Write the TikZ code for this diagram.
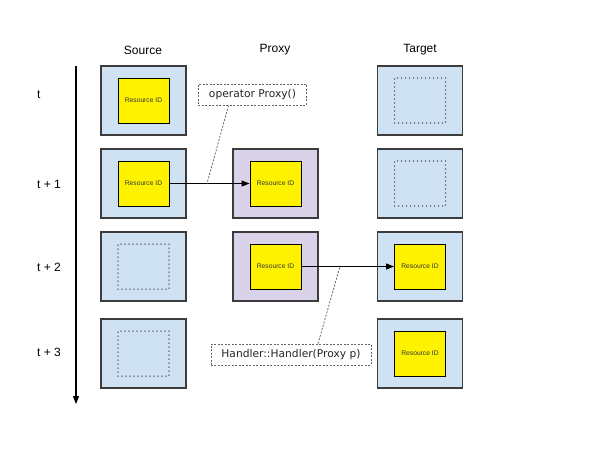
\documentclass[tikz,border=0pt]{standalone}
\usepackage{fontspec}
\setmainfont{Liberation Sans}
\newfontfamily\calloutfont{DejaVu Sans}
\usetikzlibrary{arrows.meta}
\definecolor{boxblue}{HTML}{CFE2F3}
\definecolor{boxpurple}{HTML}{D9D2E9}
\definecolor{boxedge}{HTML}{3C3C3C}
\definecolor{dotgray}{HTML}{404040}
\tikzset{
  outerbox/.style={draw=boxedge, line width=1.3pt, fill=boxblue, minimum width=85pt, minimum height=69pt, inner sep=0pt},
  proxybox/.style={outerbox, fill=boxpurple},
  resbox/.style={draw=black, line width=1pt, fill=yellow, minimum width=51pt, minimum height=45pt, inner sep=0pt, font=\fontsize{6.7}{8}\selectfont, text=black!80},
  emptybox/.style={draw=dotgray, line width=1.5pt, dash pattern=on 0pt off 4pt, line cap=round, minimum width=51pt, minimum height=45pt, inner sep=0pt},
  header/.style={font=\fontsize{12}{14}\selectfont},
  rowlabel/.style={font=\fontsize{12}{14}\selectfont, anchor=west, inner sep=0pt},
  callout/.style={draw=gray!80!black, line width=0.8pt, dash pattern=on 2pt off 1.5pt, fill=white, font=\calloutfont\fontsize{10.7}{12}\selectfont, inner xsep=10.5pt, inner ysep=0pt, minimum height=21pt, text=black!85},
  leader/.style={draw=gray!80!black, line width=0.8pt, dash pattern=on 2pt off 1.5pt},
  flow/.style={draw=black, line width=1.3pt, -{Triangle[length=8pt,width=6pt]}}
}
\begin{document}
\begin{tikzpicture}[x=1pt,y=-1pt]
\useasboundingbox (0,0) rectangle (604,453);
% headers
\node[header] (hs) at (143,50) {Source};
\node[header] (hp) at (275,50) {Proxy};
\node[header] (ht) at (420,50) {Target};
% timeline
\coordinate (tl0) at (76,66);
\coordinate (tl1) at (76,404);
\draw[line width=1.2pt, -{Triangle[length=8pt,width=6pt]}] (tl0) -- (tl1);
\node[rowlabel] (r0) at (37,95) {t};
\node[rowlabel] (r1) at (37,184) {t + 1};
\node[rowlabel] (r2) at (37,267) {t + 2};
\node[rowlabel] (r3) at (37,352) {t + 3};
% row t
\node[outerbox] (s0) at (143.5,100.5) {};
\node[resbox] (s0i) at (s0) {Resource ID};
\node[outerbox] (t0) at (420,100.5) {};
\node[emptybox] (t0i) at (t0) {};
% row t+1
\node[outerbox] (s1) at (143.5,183.5) {};
\node[resbox] (s1i) at (s1) {Resource ID};
\node[proxybox] (p1) at (275.5,183.5) {};
\node[resbox] (p1i) at (p1) {Resource ID};
\node[outerbox] (t1) at (420,183.5) {};
\node[emptybox] (t1i) at (t1) {};
% row t+2
\node[outerbox] (s2) at (143.5,266.5) {};
\node[emptybox] (s2i) at (s2) {};
\node[proxybox] (p2) at (275.5,266.5) {};
\node[resbox] (p2i) at (p2) {Resource ID};
\node[outerbox] (t2) at (420,266.5) {};
\node[resbox] (t2i) at (t2) {Resource ID};
% row t+3
\node[outerbox] (s3) at (143.5,353.5) {};
\node[emptybox] (s3i) at (s3) {};
\node[outerbox] (t3) at (420,353.5) {};
\node[resbox] (t3i) at (t3) {Resource ID};
% transfers
\draw[flow] (s1i.east) -- (p1i.west);
\draw[flow] (p2i.east) -- (t2i.west);
% callouts
\node[callout] (c1) at (252.5,94.5) {operator Proxy()};
\coordinate (c1a) at (207,183.5);
\draw[leader] (c1.south) ++(-24,0) coordinate (c1b) (c1b) -- (c1a);
\node[callout] (c2) at (291,354.5) {Handler::Handler(Proxy p)};
\coordinate (c2a) at (340,266.5);
\draw[leader] (c2.north) ++(27,0) coordinate (c2b) (c2b) -- (c2a);
\end{tikzpicture}
\end{document}
